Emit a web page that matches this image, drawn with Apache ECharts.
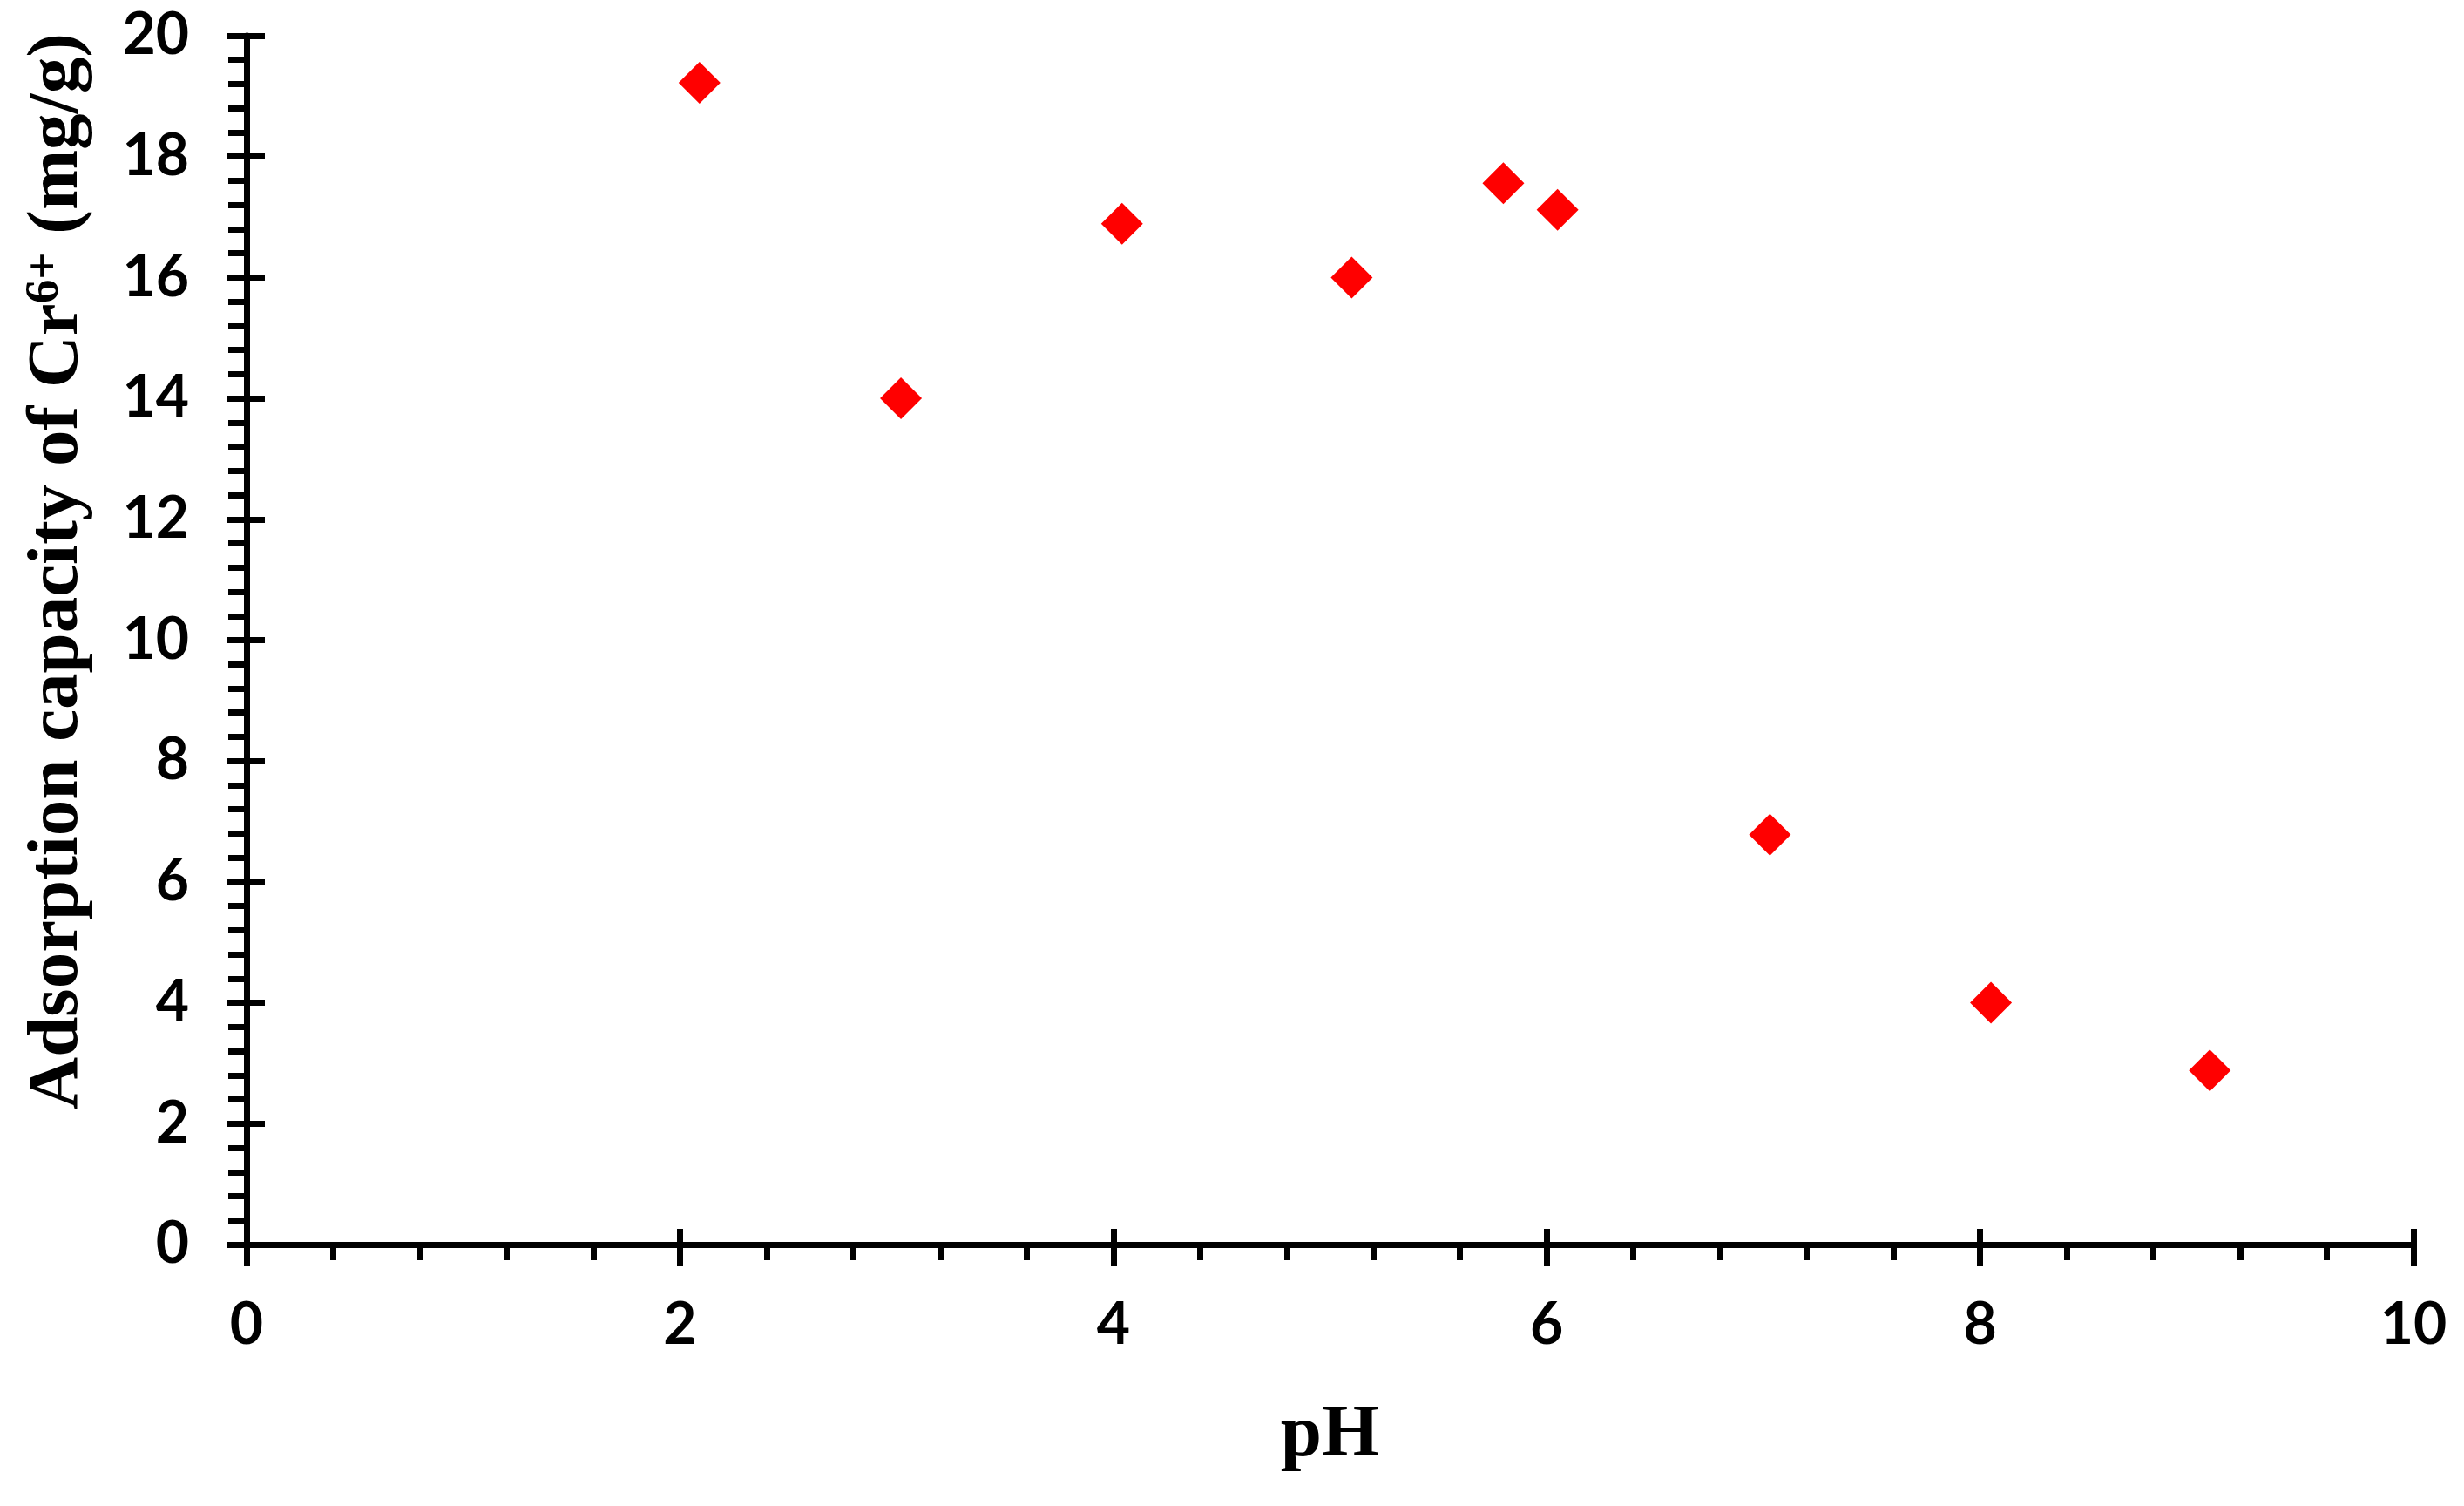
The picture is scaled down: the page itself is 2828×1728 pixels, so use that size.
<!DOCTYPE html>
<html>
<head>
<meta charset="utf-8">
<script src="https://cdn.jsdelivr.net/npm/echarts@6/dist/echarts.min.js"></script>
<style>
	html, body { margin: 0; padding: 0; background: #fff; }
	#chart { width: 2828px; height: 1728px; }
</style>
</head>
<body>
<div id="chart"></div>
<script>
// pH vs Cr6+ adsorption capacity (mg/g)
const phValues = [2.09, 3.02, 4.04, 5.10, 5.80, 6.05, 7.03, 8.05, 9.06]
const capacityValues = [19.22, 14.0, 16.89, 16.0, 17.56, 17.12, 6.78, 4.0, 2.88]

const xRange = [0, 10]
const yRange = [0, 20]
const majorStep = 2

const chart = echarts.init(document.getElementById('chart'))

const tickFont = {
	color: '#000',
	fontFamily: 'Lato',
	fontWeight: 'bold',
	fontSize: 66
}
const lineStyle = { color: '#000', width: 7 }

const option = {
	backgroundColor: '#fff',
	animation: false,
	grid: {
		left: 283,
		right: 58,
		top: 41,
		bottom: 300
	},
	xAxis: [
		{
			type: 'value',
			min: xRange[0],
			max: xRange[1],
			interval: majorStep,
			name: 'pH',
			nameLocation: 'middle',
			nameGap: 178,
			nameTextStyle: {
				color: '#000',
				fontFamily: 'Liberation Serif',
				fontWeight: 'bold',
				fontSize: 85
			},
			axisLine: { show: true, onZero: false, lineStyle: lineStyle },
			axisTick: { show: true, inside: false, length: 25, lineStyle: lineStyle },
			minorTick: { show: true, splitNumber: 5, length: 18, lineStyle: lineStyle },
			axisLabel: Object.assign({ margin: 60 }, tickFont),
			splitLine: { show: false }
		},
		{
			// inner half of the crossing major ticks
			type: 'value',
			position: 'bottom',
			min: xRange[0],
			max: xRange[1],
			interval: majorStep,
			axisLine: { show: false, onZero: false },
			axisTick: { show: true, inside: true, length: 18, lineStyle: lineStyle },
			axisLabel: { show: false },
			splitLine: { show: false }
		}
	],
	yAxis: [
		{
			type: 'value',
			min: yRange[0],
			max: yRange[1],
			interval: majorStep,
			name: '{t|Adsorption capacity of Cr}{s|6+}{t| (mg/g)}',
			nameLocation: 'middle',
			nameGap: 174,
			nameTextStyle: {
				padding: [0, 0, 0, 158],
				rich: {
					t: {
						color: '#000',
						fontFamily: 'Liberation Serif',
						fontWeight: 'bold',
						fontSize: 83
					},
					s: {
						color: '#000',
						fontFamily: 'Liberation Serif',
						fontWeight: 'bold',
						fontSize: 55,
						verticalAlign: 'top',
						padding: [0, 0, 30, 0]
					}
				}
			},
			axisLine: { show: true, onZero: false, lineStyle: lineStyle },
			axisTick: { show: true, inside: false, length: 22, lineStyle: lineStyle },
			minorTick: { show: true, splitNumber: 5, length: 21, lineStyle: lineStyle },
			axisLabel: Object.assign({ margin: 66 }, tickFont),
			splitLine: { show: false }
		},
		{
			type: 'value',
			position: 'left',
			min: yRange[0],
			max: yRange[1],
			interval: majorStep,
			axisLine: { show: false, onZero: false },
			axisTick: { show: true, inside: true, length: 21, lineStyle: lineStyle },
			axisLabel: { show: false },
			splitLine: { show: false }
		}
	],
	series: [
		{
			type: 'scatter',
			symbol: 'diamond',
			symbolSize: 48,
			itemStyle: { color: '#ff0000', opacity: 1 },
			data: phValues.map((x, i) => [x, capacityValues[i]])
		}
	]
}

chart.setOption(option)
</script>
</body>
</html>
